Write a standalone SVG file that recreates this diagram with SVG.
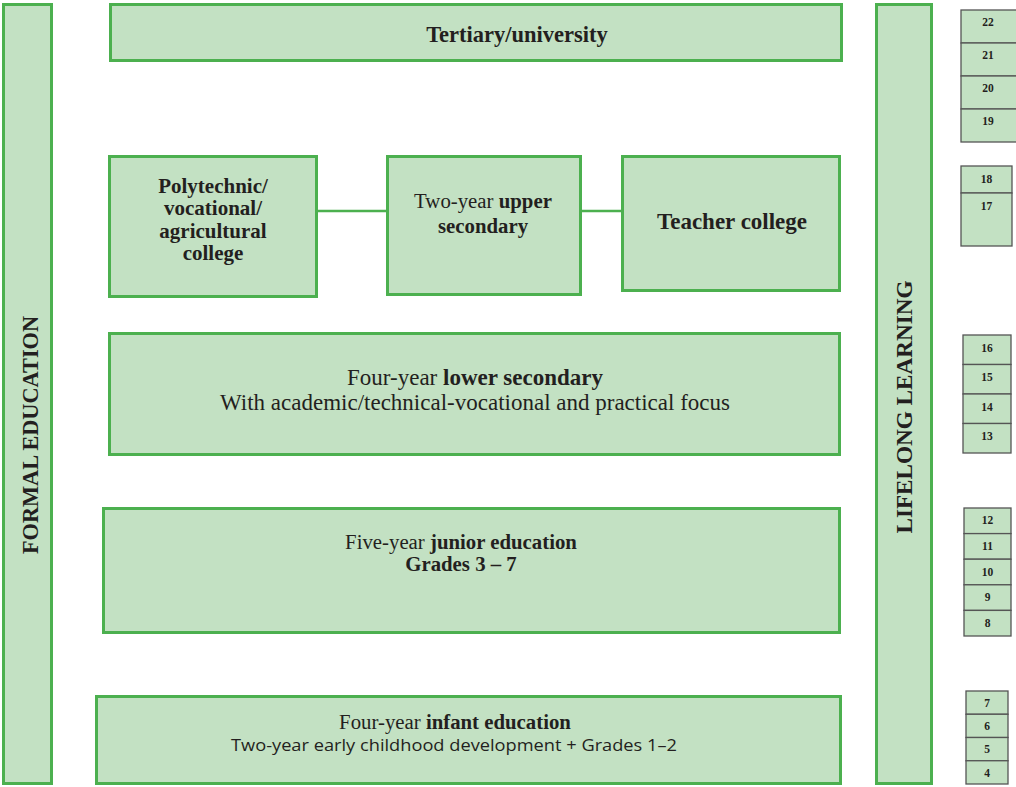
<svg xmlns="http://www.w3.org/2000/svg" width="1016" height="787" viewBox="0 0 1016 787">
<style>
.box{fill:#c3e1c3;stroke:#4cb04f;stroke-width:3}
.age{fill:#c3e1c3;stroke:#555;stroke-width:1.3}
.t{font-family:"Liberation Serif",serif;fill:#231f20;text-anchor:middle}
.b{font-weight:bold}
.n{font-family:"Liberation Serif",serif;font-weight:bold;font-size:11.5px;fill:#231f20;text-anchor:middle}
.s{font-family:"Open Sans","Liberation Sans",sans-serif;fill:#231f20;text-anchor:middle}
.c{stroke:#4cb04f;stroke-width:2.5;fill:none}
</style>
<rect width="1016" height="787" fill="#fff"/>
<g id="connectors">
<line class="c" x1="317" y1="211" x2="387" y2="211"/>
<line class="c" x1="581" y1="211" x2="622" y2="211"/>
</g>
<g id="formal">
<rect class="box" x="3.5" y="4.5" width="48" height="779"/>
<text class="t b" font-size="22.3" transform="translate(37.5,435) rotate(-90)">FORMAL EDUCATION</text>
</g>
<g id="lifelong">
<rect class="box" x="876.5" y="4.5" width="55" height="779"/>
<text class="t b" font-size="23.2" transform="translate(911.5,407) rotate(-90)">LIFELONG LEARNING</text>
</g>
<g id="tertiary">
<rect class="box" x="110.5" y="4.5" width="731" height="56"/>
<text class="t b" x="517" y="42" font-size="22.5">Tertiary/university</text>
</g>
<g id="polytechnic">
<rect class="box" x="109.5" y="156.5" width="207" height="140"/>
<text class="t b" font-size="21"><tspan x="213" y="193">Polytechnic/</tspan><tspan x="213" y="215">vocational/</tspan><tspan x="213" y="238">agricultural</tspan><tspan x="213" y="260">college</tspan></text>
</g>
<g id="upper">
<rect class="box" x="387.5" y="156.5" width="193" height="138"/>
<text class="t" font-size="20.8"><tspan x="483" y="208">Two-year <tspan class="b">upper</tspan></tspan><tspan class="b" x="483" y="233">secondary</tspan></text>
</g>
<g id="teacher">
<rect class="box" x="622.5" y="156.5" width="217" height="134"/>
<text class="t b" x="732" y="229" font-size="23">Teacher college</text>
</g>
<g id="lower">
<rect class="box" x="109.5" y="333.5" width="730" height="121"/>
<text class="t" font-size="23"><tspan x="475" y="385">Four-year <tspan class="b">lower secondary</tspan></tspan><tspan x="475" y="410">With academic/technical-vocational and practical focus</tspan></text>
</g>
<g id="junior">
<rect class="box" x="103.5" y="508.5" width="736" height="124"/>
<text class="t" font-size="20.8"><tspan x="461" y="549">Five-year <tspan class="b">junior education</tspan></tspan><tspan class="b" x="461" y="571">Grades 3 – 7</tspan></text>
</g>
<g id="infant">
<rect class="box" x="96.5" y="696.5" width="744" height="87"/>
<text class="t" x="455" y="729" font-size="20.8">Four-year <tspan class="b">infant education</tspan></text>
<text class="s" x="454" y="751" font-size="17" textLength="446" lengthAdjust="spacingAndGlyphs">Two-year early childhood development + Grades 1–2</text>
</g>
<g id="ages-19-22">
<rect class="age" x="961" y="10" width="56" height="33"/><text class="n" x="988" y="26">22</text>
<rect class="age" x="961" y="43" width="56" height="33"/><text class="n" x="988" y="59">21</text>
<rect class="age" x="961" y="76" width="56" height="33"/><text class="n" x="988" y="92">20</text>
<rect class="age" x="961" y="109" width="56" height="33"/><text class="n" x="988" y="125">19</text>
</g>
<g id="ages-17-18">
<rect class="age" x="961" y="166" width="51" height="27"/><text class="n" x="986.5" y="183">18</text>
<rect class="age" x="961" y="193" width="51" height="53"/><text class="n" x="986.5" y="210">17</text>
</g>
<g id="ages-13-16">
<rect class="age" x="963" y="335" width="48" height="29.5"/><text class="n" x="987" y="352">16</text>
<rect class="age" x="963" y="364.5" width="48" height="29.5"/><text class="n" x="987" y="381">15</text>
<rect class="age" x="963" y="394" width="48" height="29.5"/><text class="n" x="987" y="411">14</text>
<rect class="age" x="963" y="423.5" width="48" height="29.5"/><text class="n" x="987" y="440">13</text>
</g>
<g id="ages-8-12">
<rect class="age" x="964" y="508" width="47" height="25.6"/><text class="n" x="987.5" y="524">12</text>
<rect class="age" x="964" y="533.6" width="47" height="25.6"/><text class="n" x="987.5" y="550">11</text>
<rect class="age" x="964" y="559.2" width="47" height="25.6"/><text class="n" x="987.5" y="576">10</text>
<rect class="age" x="964" y="584.8" width="47" height="25.6"/><text class="n" x="987.5" y="601">9</text>
<rect class="age" x="964" y="610.4" width="47" height="25.6"/><text class="n" x="987.5" y="627">8</text>
</g>
<g id="ages-4-7">
<rect class="age" x="966" y="691" width="42" height="23.25"/><text class="n" x="987" y="707">7</text>
<rect class="age" x="966" y="714.25" width="42" height="23.25"/><text class="n" x="987" y="730">6</text>
<rect class="age" x="966" y="737.5" width="42" height="23.25"/><text class="n" x="987" y="753">5</text>
<rect class="age" x="966" y="760.75" width="42" height="23.25"/><text class="n" x="987" y="777">4</text>
</g>
</svg>
